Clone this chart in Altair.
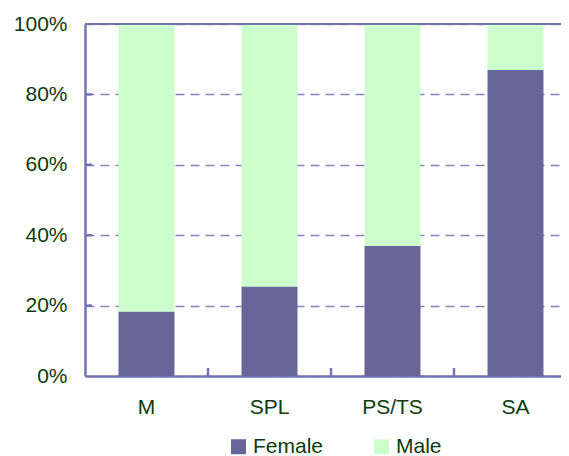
import altair as alt
import pandas as pd

categories = ["M", "SPL", "PS/TS", "SA"]
female = [18.3, 25.4, 37.0, 86.9]
male = [81.7, 74.6, 63.0, 13.1]
y_ticks = [0.0, 0.2, 0.4, 0.6, 0.8, 1.0]

rows = []
for c, f, m in zip(categories, female, male):
    rows.append({"cat": c, "gender": "Female", "share": f / 100})
    rows.append({"cat": c, "gender": "Male", "share": m / 100})
df = pd.DataFrame(rows)

TEXT = "#0b3b0b"
AXIS = "#7474b0"
FONT = "Liberation Sans"

xscale = alt.Scale(domain=categories, range=[0, 492], paddingInner=0, paddingOuter=0)
yscale = alt.Scale(domain=[0, 1])

bars = alt.Chart(df).mark_bar(width={"band": 0.455}).encode(
    x=alt.X("cat:N", scale=xscale, sort=categories,
            axis=alt.Axis(title=None, labelAngle=0, labelFontSize=21, labelFont=FONT,
                          labelColor=TEXT, ticks=False, domainColor=AXIS,
                          domainWidth=2.5, labelPadding=20)),
    y=alt.Y("share:Q", stack="zero", scale=yscale,
            axis=alt.Axis(title=None, values=y_ticks, format=".0%", labelFontSize=21,
                          labelFont=FONT, labelColor=TEXT, ticks=False,
                          domainColor=AXIS, domainWidth=2.5, labelPadding=18,
                          grid=True, gridColor="#8484c0", gridDash=[9, 6],
                          gridWidth=1.3)),
    color=alt.Color("gender:N",
                    scale=alt.Scale(domain=["Female", "Male"], range=["#666699", "#ccffcc"]),
                    legend=alt.Legend(title=None, orient="none", direction="horizontal",
                                      legendX=143, legendY=412, symbolType="square",
                                      symbolSize=225, symbolStrokeWidth=0,
                                      labelFontSize=21, labelFont=FONT, labelColor=TEXT,
                                      labelOffset=4, columnPadding=47, padding=0)),
    order=alt.Order("gender:N", sort="ascending"),
)

ytick_df = pd.DataFrame({"v": y_ticks[1:-1]})
yticks = alt.Chart(ytick_df).mark_rule(color=AXIS, strokeWidth=2.5).encode(
    y=alt.Y("v:Q", scale=yscale), x=alt.value(0), x2=alt.value(7))

xtick_df = pd.DataFrame({"cat": categories[1:]})
xticks = alt.Chart(xtick_df).mark_rule(color=AXIS, strokeWidth=2.5).encode(
    x=alt.X("cat:N", scale=xscale, sort=categories, bandPosition=0),
    y=alt.value(352), y2=alt.value(344))

top_df = pd.DataFrame({"v": [1.0]})
top = alt.Chart(top_df).mark_rule(color=AXIS, strokeWidth=2).encode(
    y=alt.Y("v:Q", scale=yscale), x=alt.value(0), x2=alt.value(492))

chart = alt.layer(bars, yticks, xticks, top).properties(
    width=476, height=352,
    autosize=alt.AutoSizeParams(type="none"),
    padding={"left": 77, "top": 16, "right": 0, "bottom": 88},
).configure_view(stroke=None).configure(background="white")

chart.save("out.html", embed_options={"renderer": "svg", "actions": False})
